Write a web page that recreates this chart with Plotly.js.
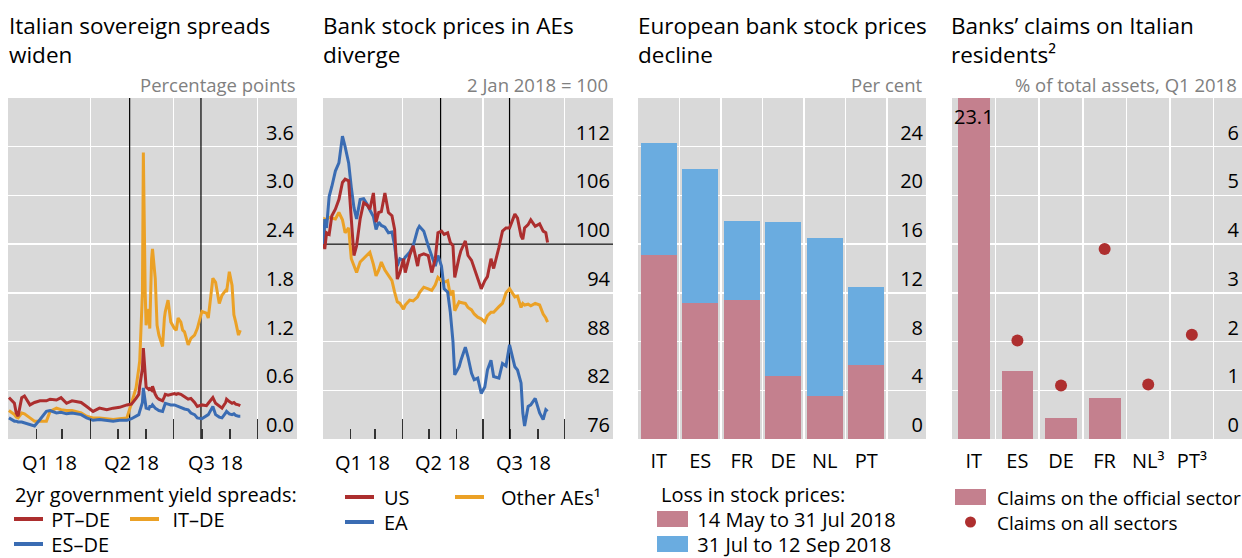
<!DOCTYPE html>
<html><head><meta charset="utf-8">
<script src="https://cdn.plot.ly/plotly-3.0.1.min.js"></script>
<style>html,body{margin:0;padding:0;background:#fff;}#chart{width:1242px;height:558px;}</style>
</head><body><div id="chart"></div>
<script>
// ---------- Panel 1: 2yr government yield spreads (percentage points) ----------
const spreadDates = ['2018-01-02','2018-01-08','2018-01-10','2018-01-12','2018-01-16','2018-01-19','2018-01-25','2018-01-30','2018-02-05','2018-02-12',
 '2018-02-16','2018-02-23','2018-02-28','2018-03-06','2018-03-12','2018-03-16','2018-03-22','2018-03-28','2018-04-04','2018-04-11',
 '2018-04-19','2018-04-26','2018-05-03','2018-05-11','2018-05-16','2018-05-21','2018-05-24','2018-05-25','2018-05-28','2018-05-29',
 '2018-05-31','2018-06-01','2018-06-04','2018-06-05','2018-06-07','2018-06-08','2018-06-11','2018-06-13','2018-06-15','2018-06-19',
 '2018-06-21','2018-06-22','2018-06-25','2018-06-28','2018-07-02','2018-07-04','2018-07-06','2018-07-09','2018-07-11','2018-07-13',
 '2018-07-17','2018-07-20','2018-07-24','2018-07-27','2018-08-01','2018-08-06','2018-08-08','2018-08-13','2018-08-16','2018-08-20',
 '2018-08-23','2018-08-27','2018-08-28','2018-08-31','2018-09-03','2018-09-05','2018-09-07','2018-09-10','2018-09-12'];
const ptDe = [0.51,0.44,0.32,0.28,0.51,0.53,0.42,0.45,0.47,0.47,
 0.49,0.48,0.51,0.44,0.47,0.46,0.45,0.40,0.34,0.38,
 0.36,0.38,0.39,0.42,0.43,0.50,0.55,0.65,0.87,1.12,
 0.70,0.64,0.61,0.62,0.60,0.65,0.55,0.51,0.49,0.47,
 0.52,0.55,0.54,0.55,0.56,0.55,0.56,0.55,0.54,0.52,
 0.49,0.50,0.45,0.40,0.42,0.41,0.44,0.51,0.44,0.40,
 0.38,0.45,0.49,0.46,0.44,0.45,0.43,0.42,0.41];
const itDe = [0.35,0.30,0.27,0.26,0.32,0.31,0.26,0.22,0.22,0.22,
 0.34,0.38,0.36,0.35,0.35,0.34,0.32,0.28,0.26,0.26,
 0.25,0.24,0.25,0.26,0.44,0.63,0.87,0.96,1.80,3.53,
 1.81,1.40,1.60,1.36,2.22,2.34,1.98,1.40,1.28,1.14,
 1.49,1.57,1.71,1.44,1.36,1.34,1.49,1.44,1.34,1.32,
 1.16,1.24,1.28,1.36,1.57,1.55,1.49,1.98,1.93,1.67,
 1.77,1.83,1.81,2.06,1.89,1.53,1.44,1.28,1.34];
const esDe = [0.26,0.22,0.22,0.21,0.21,0.20,0.18,0.16,0.24,0.34,
 0.35,0.32,0.33,0.31,0.32,0.31,0.30,0.26,0.23,0.24,
 0.23,0.22,0.23,0.23,0.25,0.28,0.30,0.34,0.45,0.63,
 0.45,0.38,0.37,0.40,0.40,0.42,0.38,0.36,0.35,0.34,
 0.40,0.44,0.43,0.42,0.42,0.41,0.40,0.39,0.38,0.37,
 0.36,0.32,0.30,0.26,0.25,0.28,0.30,0.40,0.30,0.27,
 0.26,0.32,0.34,0.31,0.30,0.31,0.29,0.28,0.28];
const spreadTicks = [0, 0.6, 1.2, 1.8, 2.4, 3.0, 3.6];
const spreadRange = [0, 4.2];

// ---------- Panel 2: bank stock prices, 2 Jan 2018 = 100 ----------
const bankDates = ['2018-01-02','2018-01-03','2018-01-05','2018-01-08','2018-01-11','2018-01-15','2018-01-19','2018-01-23','2018-01-26','2018-01-30',
 '2018-02-02','2018-02-05','2018-02-08','2018-02-12','2018-02-16','2018-02-20','2018-02-23','2018-02-27','2018-03-02','2018-03-05',
 '2018-03-08','2018-03-12','2018-03-16','2018-03-20','2018-03-23','2018-03-26','2018-03-29','2018-04-02','2018-04-04','2018-04-09',
 '2018-04-13','2018-04-18','2018-04-20','2018-04-25','2018-04-30','2018-05-04','2018-05-08','2018-05-11','2018-05-15','2018-05-18',
 '2018-05-22','2018-05-25','2018-05-28','2018-05-30','2018-06-04','2018-06-06','2018-06-11','2018-06-14','2018-06-18','2018-06-21',
 '2018-06-25','2018-06-29','2018-07-03','2018-07-06','2018-07-10','2018-07-13','2018-07-19','2018-07-23','2018-07-27','2018-07-31',
 '2018-08-06','2018-08-09','2018-08-13','2018-08-15','2018-08-17','2018-08-21','2018-08-24','2018-08-29','2018-09-03','2018-09-07',
 '2018-09-10','2018-09-12'];
const usBanks = [100,99.4,101.4,101.2,103.5,104.3,105.5,107.6,108.0,107.8,
 103.1,98.6,99.8,103.1,105.1,104.8,104.3,106.3,102.7,103.9,
 104.0,106.3,103.9,103.5,101.8,95.7,96.5,98.2,96.5,98.6,
 99.8,97.3,98.6,98.8,98.6,96.5,98.2,101.4,101.6,101.2,
 101.4,100.2,99.8,95.9,98.4,99.2,100.4,98.6,98.0,97.1,
 95.9,94.5,95.5,96.0,98.2,97.0,99.6,101.6,102.0,102.0,
 103.7,103.2,101.0,100.6,102.0,102.4,103.0,102.2,102.5,101.6,
 101.4,100.2];
const eaBanks = [100,103.1,102.0,105.9,107.1,109.0,110.0,113.3,112.0,110.0,
 107.0,104.5,103.1,105.5,105.6,104.9,104.2,103.4,101.8,102.7,
 102.3,102.1,101.4,101.5,99.8,97.3,98.2,98.0,98.4,99.0,
 99.8,101.8,102.2,101.6,99.8,98.6,97.3,98.6,97.3,94.5,
 94.1,91.6,88.0,83.9,84.9,85.7,87.3,86.1,84.1,83.3,
 83.5,81.6,82.4,84.5,85.7,83.7,83.5,85.3,85.0,87.6,
 84.9,84.5,82.9,79.2,77.6,80.0,80.2,81.0,79.2,78.4,
 79.6,79.4];
const otherAEs = [100,103.1,103.0,103.3,103.2,103.1,103.9,103.0,101.4,102.0,
 98.2,97.3,96.5,97.8,98.2,98.6,99.0,97.5,96.1,96.8,
 97.8,96.8,96.1,95.5,94.1,92.9,92.7,92.0,92.5,93.1,
 93.0,93.5,94.0,94.7,94.5,94.3,95.0,95.9,95.5,95.3,
 95.5,93.7,94.3,91.8,92.9,92.8,92.7,92.2,91.9,91.4,
 91.0,90.8,90.4,91.2,91.6,91.6,92.3,92.7,94.0,94.5,
 93.5,93.6,92.2,92.7,92.5,92.6,92.4,92.7,92.5,91.4,
 90.9,90.4];
const bankBase = 100;
const bankTicks = [76, 82, 88, 94, 100, 106, 112];
const bankRange = [76, 118];

// ---------- Panel 3: loss in European bank stock prices (per cent) ----------
const lossCountries = ['IT','ES','FR','DE','NL','PT'];
const lossMayJul = [15.1, 11.2, 11.4, 5.2, 3.5, 6.1];
const lossJulSep = [9.2, 11.0, 6.5, 12.6, 13.0, 6.4];
const lossTicks = [0, 4, 8, 12, 16, 20, 24];

// ---------- Panel 4: banks' claims on Italian residents (% of total assets) ----------
const claimCountries = ['IT','ES','DE','FR','NL','PT'];
const claimLabels = ['IT','ES','DE','FR','NL³','PT³'];
const officialClaims = [23.1, 1.39, 0.43, 0.84, null, null];
const allClaims = [null, 2.02, 1.10, 3.90, 1.12, 2.14];
const claimTicks = [0, 1, 2, 3, 4, 5, 6];

// ---------- Time axis helpers ----------
const quarterStarts = ['2018-01-01','2018-04-01','2018-07-01','2018-10-01'];
const quarterLabels = ['Q1 18','Q2 18','Q3 18'];
const monthStarts = ['2018-02-01','2018-03-01','2018-05-01','2018-06-01','2018-08-01','2018-09-01'];
const eventDates = ['2018-05-14','2018-07-31'];
const spreadXRange = ['2018-01-01','2018-11-13'];
const bankXRange = ['2018-01-01','2018-11-25'];

// ---------- Layout ----------
const W = 1242, H = 558;
const FONT = '"Open Sans", "Noto Sans", sans-serif';
const RED = '#AC2E2E', ORANGE = '#EBA126', BLUE = '#3A6CB3';
const PINK = '#C4808E', LBLUE = '#6AACE0', DOT = '#AE2F2F';
const TICK = 20, TITLE = 22.5, UNIT = 18.5;
const px = v => v / W, py = v => 1 - v / H;
const yDom = [py(439), py(98)];

function timeX(dom, range) {
  return {domain: dom, type: 'date', range: range,
    tickmode: 'array', tickvals: quarterStarts.slice(1), showticklabels: false,
    ticks: 'inside', ticklen: 20, tickwidth: 1.5, tickcolor: '#333',
    showgrid: true, gridcolor: '#fff', gridwidth: 1.5, zeroline: false, showline: false,
    minor: {tickmode: 'array', tickvals: monthStarts, ticks: 'inside', ticklen: 10, tickwidth: 1.5, tickcolor: '#333', showgrid: false},
    fixedrange: true};
}
function valY(range, ticks, fmt) {
  return {domain: yDom, range: range, side: 'right', tickmode: 'array', tickvals: ticks,
    ticktext: ticks.map(fmt), ticklabelposition: 'inside top', ticks: '',
    tickfont: {size: TICK, color: '#000', family: FONT},
    showgrid: true, gridcolor: '#fff', gridwidth: 1.5, zeroline: false, showline: false, fixedrange: true};
}
function catX(dom, range, cats, labels) {
  return {domain: dom, type: 'category', range: range, tickmode: 'array', tickvals: cats, ticktext: labels,
    tickson: 'boundaries', ticks: '', showgrid: true, gridcolor: '#fff', gridwidth: 1.5,
    tickfont: {size: TICK, color: '#000', family: FONT}, ticklabelstandoff: 8,
    zeroline: false, showline: false, fixedrange: true};
}

const refLine = {color: '#000', width: 1.2};
const traces = [];
// event markers (14 May, 31 Jul) and the 100 base line, drawn first so data lie on top
eventDates.forEach(d => {
  traces.push({x: [d, d], y: spreadRange, xaxis: 'x', yaxis: 'y', mode: 'lines', line: refLine});
  traces.push({x: [d, d], y: bankRange, xaxis: 'x2', yaxis: 'y2', mode: 'lines', line: refLine});
});
traces.push({x: bankXRange, y: [bankBase, bankBase], xaxis: 'x2', yaxis: 'y2', mode: 'lines', line: refLine});
traces.push(
  {x: spreadDates, y: itDe, xaxis: 'x', yaxis: 'y', mode: 'lines', line: {color: ORANGE, width: 3}},
  {x: spreadDates, y: ptDe, xaxis: 'x', yaxis: 'y', mode: 'lines', line: {color: RED, width: 3}},
  {x: spreadDates, y: esDe, xaxis: 'x', yaxis: 'y', mode: 'lines', line: {color: BLUE, width: 3}},
  {x: bankDates, y: otherAEs, xaxis: 'x2', yaxis: 'y2', mode: 'lines', line: {color: ORANGE, width: 3}},
  {x: bankDates, y: eaBanks, xaxis: 'x2', yaxis: 'y2', mode: 'lines', line: {color: BLUE, width: 3}},
  {x: bankDates, y: usBanks, xaxis: 'x2', yaxis: 'y2', mode: 'lines', line: {color: RED, width: 3}},
  {type: 'bar', x: lossCountries, y: lossMayJul, xaxis: 'x3', yaxis: 'y3', width: 0.87, marker: {color: PINK, line: {width: 0}}},
  {type: 'bar', x: lossCountries, y: lossJulSep, xaxis: 'x3', yaxis: 'y3', width: 0.87, marker: {color: LBLUE, line: {width: 0}}},
  {type: 'bar', x: claimCountries, y: officialClaims, xaxis: 'x4', yaxis: 'y4', width: 0.73, marker: {color: PINK, line: {width: 0}}},
  {x: claimCountries, y: allClaims, xaxis: 'x4', yaxis: 'y4', mode: 'markers', marker: {color: DOT, size: 12}}
);
traces.forEach(t => { t.showlegend = false; t.hoverinfo = 'skip'; });

const shapes = [];
const annotations = [];
const NB = n => '&nbsp;'.repeat(n);
// multi-line text block: rows share one text element; pitch = line spacing in px, size = glyph size
function block(x, firstRowCentre, lines, size, pitch, o) {
  annotations.push(Object.assign({xref: 'paper', yref: 'paper', x: px(x), y: py(firstRowCentre - 0.681 * size - 1),
    xanchor: 'left', yanchor: 'top', align: 'left', showarrow: false,
    text: lines.map(l => '<span style="font-size:' + size + 'px">' + l + '</span>').join('<br>'),
    font: {family: FONT, size: pitch / 1.3, color: '#000'}}, o || {}));
}
function txt(x, y, text, size, o) {
  annotations.push(Object.assign({xref: 'paper', yref: 'paper', x: px(x), y: py(y), text: text, showarrow: false,
    xanchor: 'left', yanchor: 'middle', align: 'left', font: {family: FONT, size: size, color: '#000'}}, o || {}));
}
// titles (two lines each)
[[8, 'Italian sovereign spreads', 'widen'], [322, 'Bank stock prices in AEs', 'diverge'],
 [637, 'European bank stock prices', 'decline'], [950, 'Banks’ claims on Italian', 'residents²']]
 .forEach(([x, a, b]) => block(x - 1, 24, [a, b], TITLE, 28.5));
// units
[[298, 'Percentage points'], [610, '2 Jan 2018 = 100'], [924, 'Per cent'], [1239, '% of total assets, Q1 2018']]
 .forEach(([x, t]) => txt(x, 85, t, UNIT, {xanchor: 'right', font: {family: FONT, size: UNIT, color: '#808080'}}));
// quarter labels centred in each quarter
['x', 'x2'].forEach(ax => quarterLabels.forEach((q, i) => {
  const mid = new Date((Date.parse(quarterStarts[i]) + Date.parse(quarterStarts[i + 1])) / 2).toISOString().slice(0, 10);
  annotations.push({xref: ax, yref: 'paper', x: mid, y: py(462), text: q, showarrow: false, xanchor: 'center', yanchor: 'middle',
    font: {family: FONT, size: TICK, color: '#000'}});
}));
// value label on the clipped IT bar
annotations.push({xref: 'x4', yref: 'y4 domain', x: claimCountries[0], y: 1, yanchor: 'top', yshift: -3,
  text: officialClaims[0].toFixed(1), showarrow: false, font: {family: FONT, size: TICK, color: '#000'}});

// legends
function legLine(x0, y, color) { shapes.push({type: 'line', xref: 'paper', yref: 'paper', x0: px(x0), x1: px(x0 + 29), y0: py(y), y1: py(y), line: {color: color, width: 4}}); }
function legBox(x0, y, color) { shapes.push({type: 'rect', xref: 'paper', yref: 'paper', x0: px(x0), x1: px(x0 + 31), y0: py(y + 8), y1: py(y - 8), line: {width: 0}, fillcolor: color}); }
const R1 = 494, P = 25;
// panel 1
block(13, R1, ['2yr government yield spreads:', NB(7) + 'PT–DE' + NB(12) + 'IT–DE', NB(7) + 'ES–DE'], 20, P);
legLine(14, R1 + P, RED); legLine(130, R1 + P, ORANGE); legLine(14, R1 + 2 * P, BLUE);
// panel 2
block(382, 497, ['US', 'EA'], 20, 25);
txt(499, 497, 'Other AEs¹', 20);
legLine(345, 497, RED); legLine(455, 497, ORANGE); legLine(345, 522, BLUE);
// panel 3
block(659, R1, ['Loss in stock prices:', NB(7) + '14 May to 31 Jul 2018', NB(7) + '31 Jul to 12 Sep 2018'], 20, P);
legBox(657, R1 + P, PINK); legBox(657, R1 + 2 * P, LBLUE);
// panel 4
block(995, 497, ['Claims on the official sector', 'Claims on all sectors'], 19, 25);
legBox(955, 497, PINK);
shapes.push({type: 'circle', xref: 'paper', yref: 'paper', x0: px(965), x1: px(976), y0: py(527.5), y1: py(516.5), line: {width: 0}, fillcolor: DOT});

const layout = {
  width: W, height: H, margin: {l: 0, r: 0, t: 0, b: 0}, paper_bgcolor: '#fff', plot_bgcolor: '#D9D9D9',
  font: {family: FONT, size: 18, color: '#000'}, showlegend: false, hovermode: false, barmode: 'stack',
  xaxis: Object.assign(timeX([px(8), px(297)], spreadXRange), {anchor: 'y'}),
  yaxis: Object.assign(valY(spreadRange, spreadTicks, v => v.toFixed(1)), {anchor: 'x'}),
  xaxis2: Object.assign(timeX([px(323), px(613)], bankXRange), {anchor: 'y2'}),
  yaxis2: Object.assign(valY(bankRange, bankTicks, v => String(v)), {anchor: 'x2'}),
  xaxis3: Object.assign(catX([px(638), px(926)], [-0.5, 6.44], lossCountries, lossCountries), {anchor: 'y3'}),
  yaxis3: Object.assign(valY([0, 28], lossTicks, v => String(v)), {anchor: 'x3'}),
  xaxis4: Object.assign(catX([px(952), 1], [-0.5, 6.15], claimCountries, claimLabels), {anchor: 'y4'}),
  yaxis4: Object.assign(valY([0, 7], claimTicks, v => String(v)), {anchor: 'x4'}),
  shapes: shapes, annotations: annotations
};
Plotly.newPlot('chart', traces, layout, {staticPlot: true, displayModeBar: false});
</script></body></html>
